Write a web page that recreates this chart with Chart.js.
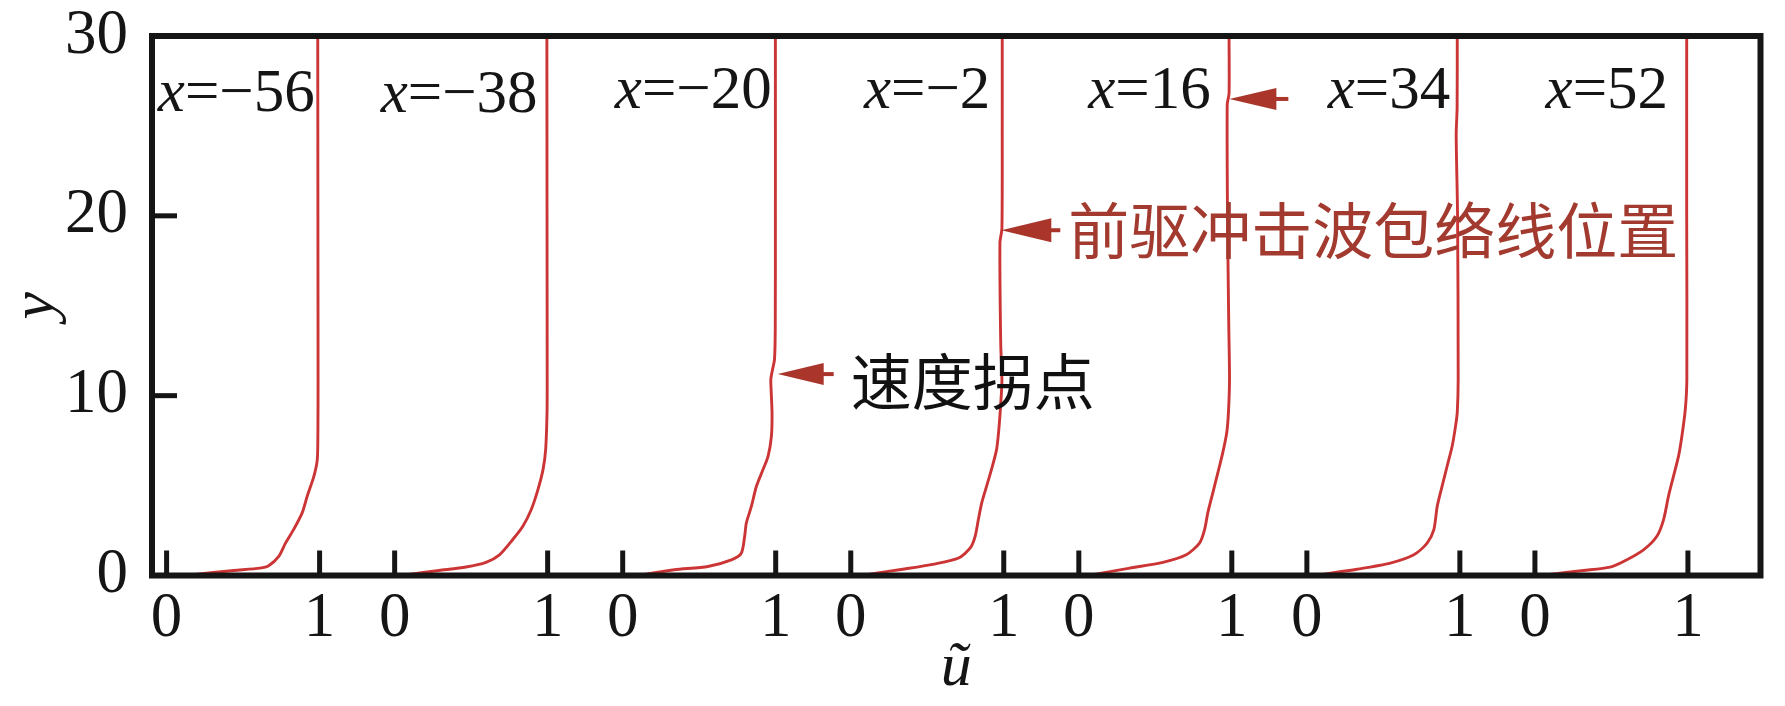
<!DOCTYPE html>
<html><head><meta charset="utf-8">
<script src="https://cdn.jsdelivr.net/npm/chart.js@4.4.1/dist/chart.umd.min.js"></script>
<style>html,body{margin:0;padding:0;background:#fff;overflow:hidden}</style>
</head><body>
<canvas id="c" width="1785" height="706" style="display:block;width:1785px;height:706px"></canvas>
<script>
// ---- data ----
const stations = [-56, -38, -20, -2, 16, 34, 52];
const uTickLabels = ['0', '1'];
const yTickValues = [0, 10, 20, 30];
// [u, y] pairs, one array per station
const profileM56 = [[0.17,0.05],[0.44,0.28],[0.61,0.41],[0.667,0.54],[0.733,1.06],[0.777,1.8],[0.83,2.55],[0.886,3.48],[0.919,4.41],[0.963,5.53],[0.985,6.46],[0.989,8.14],[0.99,10.9],[0.989,20],[0.988,30]];
const profileM38 = [[0.083,0.05],[0.29,0.28],[0.466,0.47],[0.597,0.73],[0.685,1.15],[0.772,2.0],[0.838,2.74],[0.893,3.67],[0.937,4.79],[0.97,5.9],[0.987,7.0],[0.996,9.07],[0.997,10.9],[0.996,20],[0.995,30]];
const profileM20 = [[0.131,0.05],[0.338,0.32],[0.557,0.5],[0.71,0.87],[0.775,1.24],[0.797,2.17],[0.808,2.92],[0.841,3.84],[0.874,4.96],[0.917,5.89],[0.95,6.63],[0.972,7.74],[0.976,9.04],[0.97,10.34],[0.968,10.9],[0.978,11.4],[0.992,12.0],[0.997,13.7],[0.998,20],[0.998,30]];
const profileM2  = [[0.103,0.05],[0.34,0.35],[0.555,0.65],[0.705,0.97],[0.781,1.53],[0.813,2.18],[0.834,3.11],[0.856,4.04],[0.888,4.97],[0.92,5.9],[0.953,7.0],[0.968,8.14],[0.978,9.25],[0.985,10.2],[0.988,10.9],[0.98,13],[0.975,18.5],[0.988,19.3],[0.99,25],[0.99,30]];
const profileP16 = [[0.093,0.05],[0.333,0.41],[0.55,0.73],[0.702,1.15],[0.789,1.8],[0.822,2.55],[0.843,3.48],[0.876,4.6],[0.909,5.72],[0.941,6.83],[0.967,7.95],[0.978,9.07],[0.985,10.9],[0.98,14],[0.972,20],[0.97,26.2],[0.982,26.8],[0.982,30]];
const profileP34 = [[0.087,0.05],[0.328,0.35],[0.546,0.69],[0.699,1.15],[0.786,1.8],[0.83,2.55],[0.852,3.85],[0.884,4.97],[0.917,6.09],[0.95,7.2],[0.972,8.32],[0.983,9.07],[0.989,10.9],[0.985,20],[0.976,24.5],[0.982,26],[0.983,30]];
const profileP52 = [[0.087,0.05],[0.317,0.28],[0.491,0.47],[0.579,0.78],[0.71,1.43],[0.797,2.18],[0.841,3.11],[0.873,4.41],[0.906,5.53],[0.939,6.65],[0.961,7.77],[0.983,9.25],[0.993,10.9],[0.992,20],[0.992,30]];
const profiles = [profileM56, profileM38, profileM20, profileM2, profileP16, profileP34, profileP52];
const noteFront = '前驱冲击波包络线位置';
const noteKink = '速度拐点';

// ---- layout / style (not data) ----
const PANEL_OFFSET = 1.4906;     // horizontal shift between station panels, in u units
const X_MIN = -0.0954, X_MAX = 10.418;
const LINE_RED = '#cc3535';
const ARROW_RED = '#a9352b';
const SERIF = '"Liberation Serif", "Times New Roman", serif';
const CJK = '"Noto Sans CJK SC", sans-serif';
// station label: right edge (u within panel) and baseline (y)
const stationLabelPos = [[0.968,25.85],[0.934,25.75],[0.974,26.0],[0.912,26.0],[0.862,26.0],[0.937,26.0],[0.87,26.0]];
// arrows: panel index, tip u, y, head length px, total length px, half head height px, text, text colour, gap
const arrows = [
  {panel:3, u:0.984, y:19.2, head:50, total:59, hh:12, text:noteFront, color:'#a23a2f', gap:8, ty:19.15},
  {panel:2, u:1.013, y:11.2, head:46, total:56, hh:11, text:noteKink, color:'#111111', gap:17, ty:10.75},
  {panel:4, u:0.984, y:26.5, head:47, total:59, hh:11, text:null}
];

const datasets = profiles.map((p, k) => ({
  label: 'x=' + stations[k],
  data: p.map(([u, y]) => ({x: k * PANEL_OFFSET + u, y: y})),
  borderColor: LINE_RED,
  borderWidth: 2.9,
  pointRadius: 0,
  tension: 0.25,
  fill: false
}));

const xTickValues = [];
stations.forEach((s, k) => [0, 1].forEach(v => xTickValues.push(k * PANEL_OFFSET + v)));

const framePlugin = {
  id: 'frame',
  afterDatasetsDraw(chart) {
    const {ctx, chartArea: a, scales: {x, y}} = chart;
    ctx.save();
    ctx.strokeStyle = '#151515';
    // inward ticks
    ctx.lineWidth = 5;
    xTickValues.forEach(v => {
      const px = x.getPixelForValue(v);
      ctx.beginPath(); ctx.moveTo(px, a.bottom); ctx.lineTo(px, a.bottom - 25); ctx.stroke();
    });
    yTickValues.slice(1, -1).forEach(v => {
      const py = y.getPixelForValue(v);
      ctx.beginPath(); ctx.moveTo(a.left, py); ctx.lineTo(a.left + 25, py); ctx.stroke();
    });
    // frame
    ctx.lineWidth = 6;
    ctx.strokeRect(a.left, a.top, a.right - a.left, a.bottom - a.top);

    // station labels
    const size = 61;
    stations.forEach((s, k) => {
      const [ur, yb] = stationLabelPos[k];
      const xr = x.getPixelForValue(k * PANEL_OFFSET + ur);
      const yy = y.getPixelForValue(yb);
      const rest = '=' + (s < 0 ? '\u2212' + Math.abs(s) : String(s));
      ctx.textBaseline = 'alphabetic'; ctx.textAlign = 'left'; ctx.fillStyle = '#151515';
      ctx.font = `${size}px ${SERIF}`; const wr = ctx.measureText(rest).width;
      ctx.font = `italic ${size}px ${SERIF}`; const wx = ctx.measureText('x').width;
      const x0 = xr - wr - wx;
      ctx.fillText('x', x0, yy);
      ctx.font = `${size}px ${SERIF}`;
      ctx.fillText(rest, x0 + wx, yy);
    });

    // arrows + notes
    arrows.forEach(ar => {
      const tx = x.getPixelForValue(ar.panel * PANEL_OFFSET + ar.u);
      const ty = y.getPixelForValue(ar.y);
      ctx.fillStyle = ARROW_RED; ctx.strokeStyle = ARROW_RED;
      ctx.beginPath();
      ctx.moveTo(tx, ty); ctx.lineTo(tx + ar.head, ty - ar.hh); ctx.lineTo(tx + ar.head, ty + ar.hh); ctx.closePath();
      ctx.fill();
      ctx.lineWidth = 4;
      ctx.beginPath(); ctx.moveTo(tx + ar.head - 2, ty); ctx.lineTo(tx + ar.total, ty); ctx.stroke();
      if (ar.text) {
        ctx.font = `61px ${CJK}`;
        ctx.fillStyle = ar.color; ctx.textAlign = 'left'; ctx.textBaseline = 'middle';
        ctx.fillText(ar.text, tx + ar.total + ar.gap, y.getPixelForValue(ar.ty));
      }
    });
    ctx.restore();
  }
};

new Chart(document.getElementById('c'), {
  type: 'line',
  data: {datasets},
  options: {
    responsive: false,
    animation: false,
    devicePixelRatio: 1,
    layout: {padding: {top: 36, right: 24.5, left: 0, bottom: 0}},
    plugins: {legend: {display: false}, tooltip: {enabled: false}},
    scales: {
      x: {
        type: 'linear', min: X_MIN, max: X_MAX,
        grid: {display: false, drawTicks: false}, border: {display: false},
        afterBuildTicks: s => { s.ticks = xTickValues.map(v => ({value: v})); },
        afterFit: s => { s.height = 130.5; s.paddingLeft = 0; s.paddingRight = 0; },
        ticks: {
          autoSkip: false, maxRotation: 0, minRotation: 0, padding: 6,
          color: '#151515', font: {family: SERIF, size: 63},
          callback: (v, i) => uTickLabels[i % 2]
        },
        title: {display: true, text: 'ũ', color: '#151515', padding: {top: 0, bottom: 0},
                font: {family: SERIF, size: 62, style: 'italic'}}
      },
      y: {
        type: 'linear', min: 0, max: 30,
        grid: {display: false, drawTicks: false}, border: {display: false},
        afterBuildTicks: s => { s.ticks = yTickValues.map(v => ({value: v})); },
        afterFit: s => { s.width = 152; s.paddingTop = 0; s.paddingBottom = 0; },
        ticks: {padding: 24, color: '#151515', font: {family: SERIF, size: 63}},
        title: {display: true, text: 'y', color: '#151515', padding: {top: 0, bottom: 0},
                font: {family: SERIF, size: 62, style: 'italic'}}
      }
    }
  },
  plugins: [framePlugin]
});
</script>
</body></html>
